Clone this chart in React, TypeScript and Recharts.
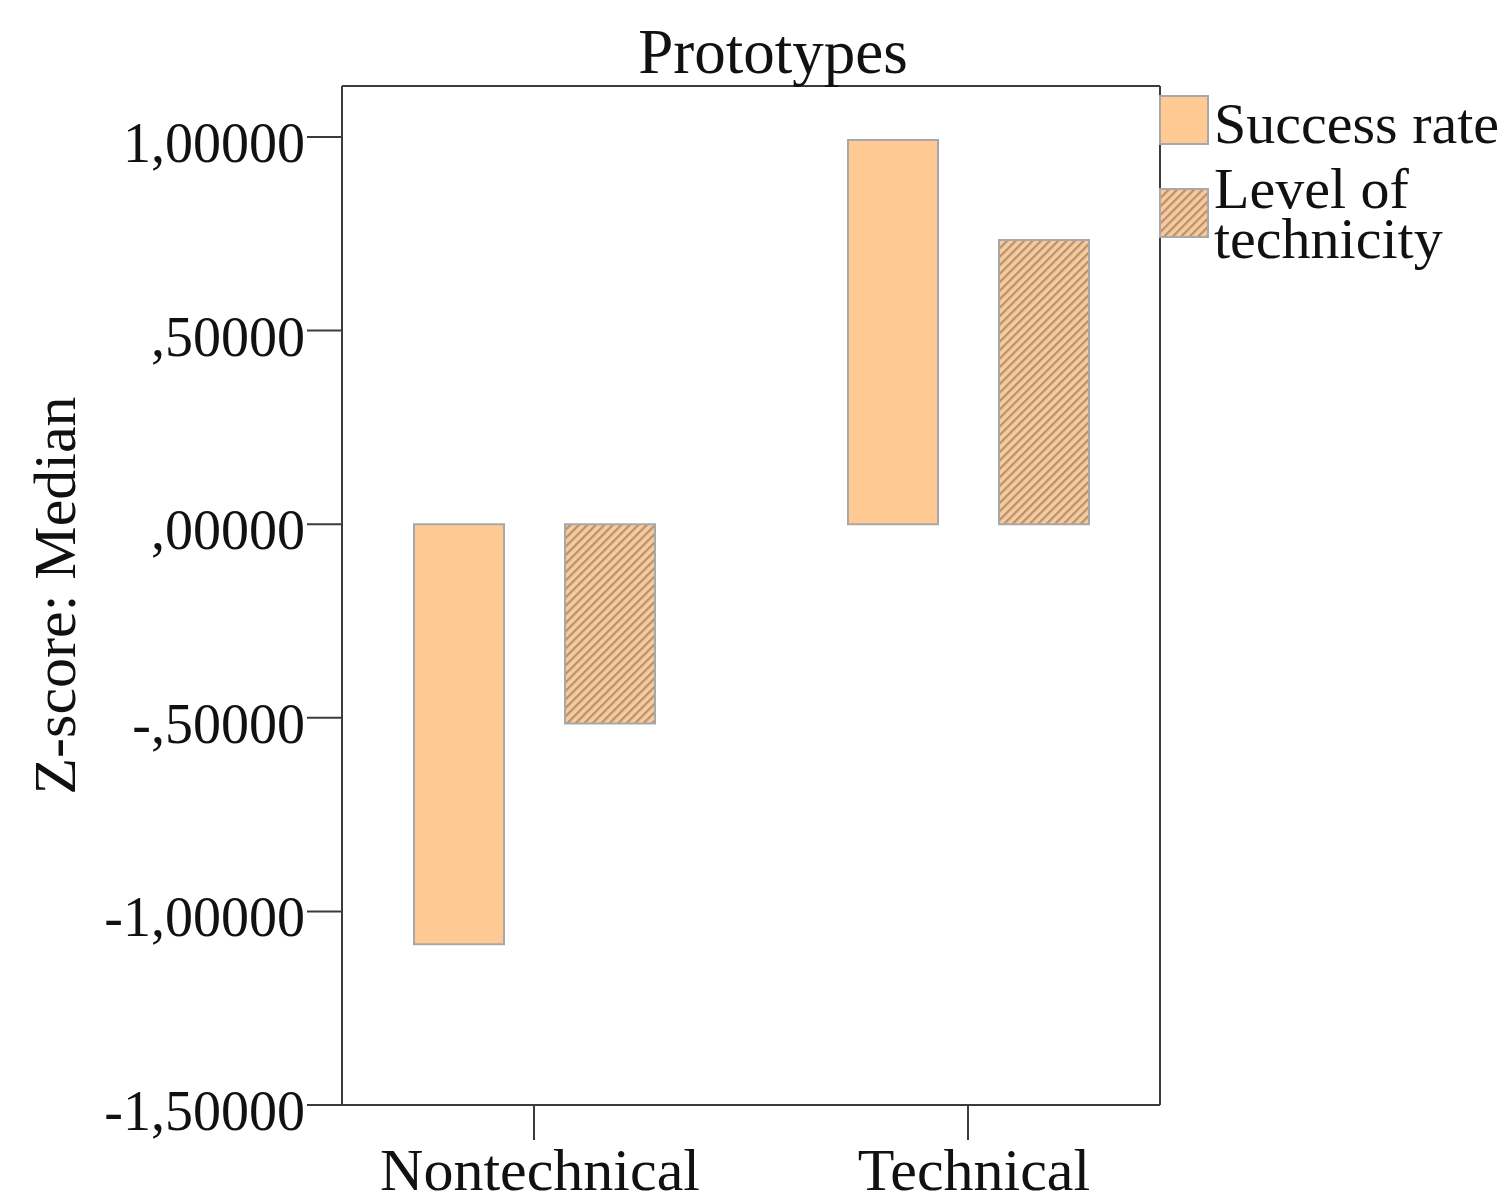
import React from 'react';
import { BarChart, Bar, XAxis, YAxis } from 'recharts';

const categories = ['Nontechnical', 'Technical'];
const successRate = [-1.085, 0.992];
const levelOfTechnicity = [-0.515, 0.734];
const yTicks = [-1.5, -1, -0.5, 0, 0.5, 1];
const seriesNames = ['Success rate', 'Level of technicity'];
const chartTitle = 'Prototypes';
const yAxisTitle = 'Z-score: Median';

const data = categories.map((c, i) => ({
  category: c,
  success: successRate[i],
  level: levelOfTechnicity[i],
}));

const FONT = '"Liberation Serif", "Times New Roman", serif';
const PEACH = '#FFC994';
const BAR_STROKE = '#a8a8a8';
const AXIS = '#3c3c3c';

const fmt = (v: number) => {
  const s = Math.abs(v).toFixed(5).replace('.', ',');
  const t = s.startsWith('0,') ? s.slice(1) : s;
  return (v < 0 ? '-' : '') + t;
};

const YTick = (props: any) => {
  const { x, y, payload } = props;
  return (
    <text x={x} y={y} dy={25} textAnchor="end" fontFamily={FONT} fontSize={56} fill="#111">
      {fmt(payload.value)}
    </text>
  );
};

const XTick = (props: any) => {
  const { x, y, payload } = props;
  return (
    <text x={x + 6} y={y} dy={50} textAnchor="middle" fontFamily={FONT} fontSize={60} fill="#111">
      {payload.value}
    </text>
  );
};

const YLabel = (props: any) => {
  const vb = props.viewBox || { x: 0, y: 0, width: 0, height: 0 };
  const cx = vb.x + 46;
  const cy = vb.y + vb.height / 2;
  return (
    <text
      x={cx}
      y={cy}
      dy={21}
      transform={`rotate(-90, ${cx}, ${cy})`}
      textAnchor="middle"
      fontFamily={FONT}
      fontSize={60}
      fill="#111"
    >
      {yAxisTitle}
    </text>
  );
};

export default function App() {
  const W = 1499;
  const H = 1188;
  return (
    <div style={{ position: 'relative', width: W, height: H }}>
      <BarChart
        width={W}
        height={H}
        data={data}
        margin={{ top: 77, right: 346, bottom: 0, left: 0 }}
        barSize={90}
        barGap={61}
      >
        <defs>
          <pattern
            id="hatch"
            patternUnits="userSpaceOnUse"
            width="6"
            height="6"
            patternTransform="rotate(45)"
          >
            <rect x="0" y="0" width="6" height="6" fill={PEACH} />
            <line x1="1.2" y1="0" x2="1.2" y2="6" stroke="#a8937e" strokeWidth="2.2" />
          </pattern>
        </defs>
        <XAxis
          dataKey="category"
          height={91}
          padding={{ left: -25, right: -25 }}
          tickSize={35}
          tickMargin={0}
          tick={<XTick />}
          tickLine={{ stroke: AXIS, strokeWidth: 2 }}
          axisLine={{ stroke: AXIS, strokeWidth: 2 }}
          interval={0}
        />
        <XAxis
          xAxisId="top"
          orientation="top"
          dataKey="category"
          height={1}
          tick={false}
          tickLine={false}
          axisLine={{ stroke: AXIS, strokeWidth: 2 }}
        />
        <YAxis
          width={334}
          domain={[-1.5, 1.1317]}
          ticks={yTicks}
          allowDataOverflow
          tickSize={35}
          tickMargin={2}
          tick={<YTick />}
          tickLine={{ stroke: AXIS, strokeWidth: 2 }}
          axisLine={{ stroke: AXIS, strokeWidth: 2 }}
          label={{ content: <YLabel /> }}
        />
        <YAxis
          yAxisId="right"
          orientation="right"
          width={1}
          domain={[-1.5, 1.1317]}
          tick={false}
          tickLine={false}
          axisLine={{ stroke: AXIS, strokeWidth: 2 }}
        />
        <Bar
          dataKey="success"
          name={seriesNames[0]}
          fill={PEACH}
          stroke={BAR_STROKE}
          strokeWidth={2}
          isAnimationActive={false}
        />
        <Bar
          dataKey="level"
          name={seriesNames[1]}
          fill="url(#hatch)"
          stroke={BAR_STROKE}
          strokeWidth={2}
          isAnimationActive={false}
        />
      </BarChart>
      <svg
        width={W}
        height={H}
        style={{ position: 'absolute', left: 0, top: 0, pointerEvents: 'none' }}
      >
        <text x={765} y={65} textAnchor="middle" fontFamily={FONT} fontSize={63} fill="#111">
          {chartTitle}
        </text>
        <rect x={1152} y={88} width={48} height={48} fill={PEACH} stroke={BAR_STROKE} strokeWidth={2} />
        <text x={1206} y={135} fontFamily={FONT} fontSize={58} fill="#111">
          {seriesNames[0]}
        </text>
        <rect x={1152} y={181} width={48} height={48} fill="url(#hatch)" stroke={BAR_STROKE} strokeWidth={2} />
        <text x={1206} y={200} fontFamily={FONT} fontSize={58} fill="#111">
          <tspan x={1206}>Level of</tspan>
          <tspan x={1206} dy={50}>technicity</tspan>
        </text>
      </svg>
    </div>
  );
}
